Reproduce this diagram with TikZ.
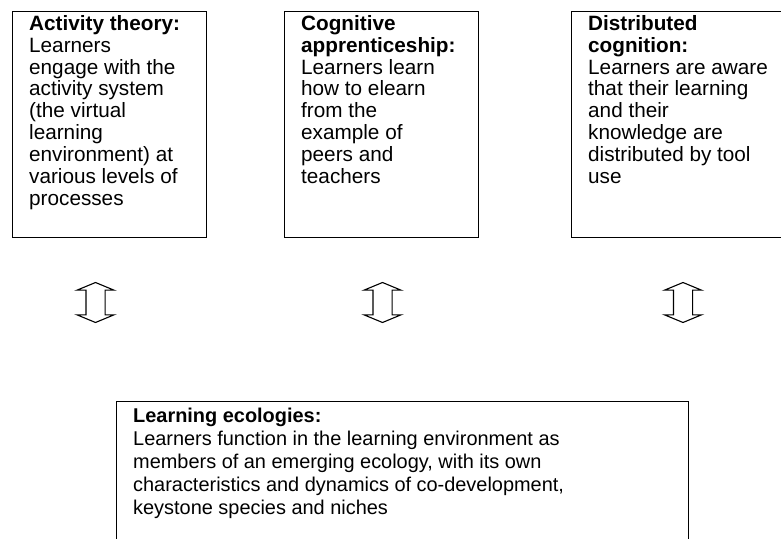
\documentclass[tikz,border=0pt]{standalone}
\usepackage{fontspec}
\setmainfont{Liberation Sans}
\usetikzlibrary{positioning,shapes.arrows}

\begin{document}
\begin{tikzpicture}[x=1bp,y=-1bp,
    box/.style={draw, line width=1.2bp, anchor=north west, inner sep=0pt},
    txt/.style={anchor=north west, align=left, inner sep=0pt, font=\fontsize{20.8}{22}\selectfont},
    link/.style={draw, line width=1.1bp, double arrow, rotate=90, minimum height=40bp,
        inner sep=9bp, double arrow head extend=9bp, double arrow tip angle=135}]
    \useasboundingbox (0,0) rectangle (781,539);
    \clip (0,0) rectangle (781,539);

    \node[box, minimum width=194bp, minimum height=226bp] (activity) at (12,11) {};
    \node[box, minimum width=194bp, minimum height=226bp] (apprentice) at (284,11) {};
    \node[box, minimum width=260bp, minimum height=226bp] (distributed) at (571,11) {};
    \node[box, minimum width=572bp, minimum height=200bp] (ecology) at (116,401) {};

    \node[txt] (activityT) at ([xshift=17bp,yshift=-4bp]activity.north west)
        {\textbf{Activity theory:}\\ Learners\\ engage with the\\ activity system\\ (the virtual\\
         learning\\ environment) at\\ various levels of\\ processes};
    \node[txt] (apprenticeT) at ([xshift=17bp,yshift=-4bp]apprentice.north west)
        {\textbf{Cognitive}\\ \textbf{apprenticeship:}\\ Learners learn\\ how to elearn\\ from the\\
         example of\\ peers and\\ teachers};
    \node[txt] (distributedT) at ([xshift=17bp,yshift=-4bp]distributed.north west)
        {\textbf{Distributed}\\ \textbf{cognition:}\\ Learners are aware\\ that their learning\\
         and their\\ knowledge are\\ distributed by tool\\ use};
    \node[txt, font=\fontsize{20}{23}\selectfont] (ecologyT) at ([xshift=17bp,yshift=-7bp]ecology.north west)
        {\textbf{Learning ecologies:}\\ Learners function in the learning environment as\\
         members of an emerging ecology, with its own\\ characteristics and dynamics of co-development,\\
         keystone species and niches};

    \node[link] (arrowA) at (95.5,302.5) {};
    \node[link] (arrowB) at (382.5,302.5) {};
    \node[link] (arrowC) at (683,302.5) {};
\end{tikzpicture}
\end{document}
